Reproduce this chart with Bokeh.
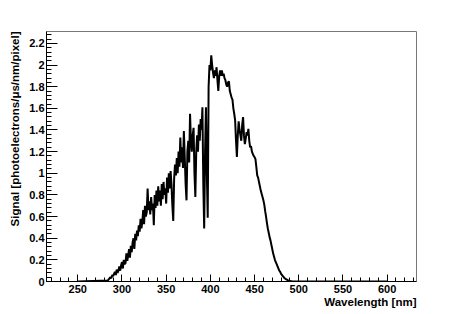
from bokeh.plotting import figure
from bokeh.models import (Range1d, SingleIntervalTicker, CustomJSTickFormatter, Title)
from bokeh.embed import file_html
from bokeh.resources import INLINE

# ---- data ----
wl_start = 284
signal = [
    0.01, 0.02, 0.03, 0.04, 0.03, 0.06,
    0.05, 0.07, 0.09, 0.06, 0.11, 0.08, 0.10, 0.14, 0.10, 0.15,
    0.18, 0.12, 0.20, 0.16, 0.17, 0.26, 0.19, 0.24, 0.30, 0.22,
    0.33, 0.27, 0.36, 0.40, 0.30, 0.44, 0.38, 0.47, 0.42, 0.52,
    0.46, 0.58, 0.49, 0.55, 0.66, 0.53, 0.70, 0.60, 0.64, 0.86,
    0.66, 0.74, 0.62, 0.78, 0.66, 0.72, 0.52, 0.80, 0.68, 0.84,
    0.70, 0.88, 0.74, 0.84, 0.70, 0.90, 0.76, 0.92, 0.80, 0.86,
    0.72, 0.96, 0.82, 1.00, 0.86, 1.02, 0.90, 0.70, 0.56, 0.95,
    1.08, 0.98, 1.14, 1.00, 1.20, 1.06, 1.33, 1.10, 1.24, 1.05,
    1.39, 1.15, 0.90, 0.75, 1.20, 1.30, 1.10, 1.55, 1.30, 1.20,
    1.35, 1.42, 1.00, 0.78, 1.20, 1.35, 1.20, 1.45, 1.30, 1.50,
    1.40, 1.61, 0.90, 0.49, 1.20, 1.61, 1.00, 0.59, 1.80, 2.00,
    1.95, 2.09, 2.00, 1.93, 1.88, 1.95, 1.90, 1.98, 1.86, 1.76,
    1.90, 1.95, 1.90, 1.95, 1.90, 1.92, 1.88, 1.86, 1.82, 1.80,
    1.84, 1.85, 1.76, 1.73, 1.70, 1.68, 1.60, 1.55, 1.49, 1.30,
    1.15, 1.35, 1.48, 1.40, 1.35, 1.30, 1.45, 1.52, 1.35, 1.27,
    1.32, 1.38, 1.35, 1.41, 1.30, 1.24, 1.25, 1.20, 1.18, 1.16,
    1.15, 1.13, 1.06, 0.98, 0.96, 0.92, 0.88, 0.84, 0.81, 0.78,
    0.75, 0.71, 0.65, 0.60, 0.54, 0.49, 0.45, 0.41, 0.38, 0.34,
    0.30, 0.26, 0.23, 0.20, 0.18, 0.16, 0.14, 0.12, 0.10, 0.09,
    0.07, 0.06, 0.05, 0.04, 0.03, 0.025, 0.02, 0.015, 0.01, 0.007,
    0.005, 0.003, 0.002, 0.001, 0.0, 0.0,
]
wavelength = [250] + list(range(wl_start, wl_start + len(signal))) + [600]
signal_full = [0.0] + signal + [0.0]

x_title = "Wavelength [nm]"
y_title = "Signal [photoelectrons/\u03bcs/nm/pixel]"
x_min, x_max = 214.6, 633.2
y_min, y_max = 0.0, 2.31

FONT = "Liberation Sans"

p = figure(width=463, height=314, output_backend="svg", toolbar_location=None,
           x_range=Range1d(x_min, x_max), y_range=Range1d(y_min, y_max),
           min_border_left=46, min_border_right=47, min_border_top=31,
           min_border_bottom=33)
p.background_fill_color = "white"
p.border_fill_color = "white"
p.outline_line_color = "#777777"
p.outline_line_width = 1
p.grid.visible = False

p.line(wavelength, signal_full, line_width=2, line_color="black")

# x axis
xa = p.xaxis[0]
xa.ticker = SingleIntervalTicker(interval=50, num_minor_ticks=5)
xa.major_tick_in = 7
xa.major_tick_out = 0
xa.minor_tick_in = 4
xa.minor_tick_out = 0
xa.major_label_standoff = 3
xa.major_label_text_font = FONT
xa.major_label_text_font_style = "bold"
xa.major_label_text_font_size = "11px"
xa.major_label_text_color = "black"
xa.axis_line_color = "black"
xa.major_tick_line_color = "black"
xa.minor_tick_line_color = "black"

# y axis
ya = p.yaxis[0]
ya.ticker = SingleIntervalTicker(interval=0.2, num_minor_ticks=5)
ya.formatter = CustomJSTickFormatter(code="return tick.toFixed(1).replace(/\\.0$/, '');")
ya.major_tick_in = 11
ya.major_tick_out = 0
ya.minor_tick_in = 5
ya.minor_tick_out = 0
ya.major_label_standoff = 2
ya.major_label_text_font = FONT
ya.major_label_text_font_style = "bold"
ya.major_label_text_font_size = "11px"
ya.major_label_text_color = "black"
ya.axis_line_color = "black"
ya.major_tick_line_color = "black"
ya.minor_tick_line_color = "black"

# axis titles (ROOT style: right/top aligned)
p.add_layout(Title(text=x_title, align="right", text_font=FONT,
                   text_font_style="bold", text_font_size="11.5px",
                   text_color="black", standoff=-4), "below")
p.add_layout(Title(text=y_title, align="right", text_font=FONT,
                   text_font_style="bold", text_font_size="11.5px",
                   text_color="black", standoff=12), "left")

open("out.html", "w").write(file_html(p, INLINE))
